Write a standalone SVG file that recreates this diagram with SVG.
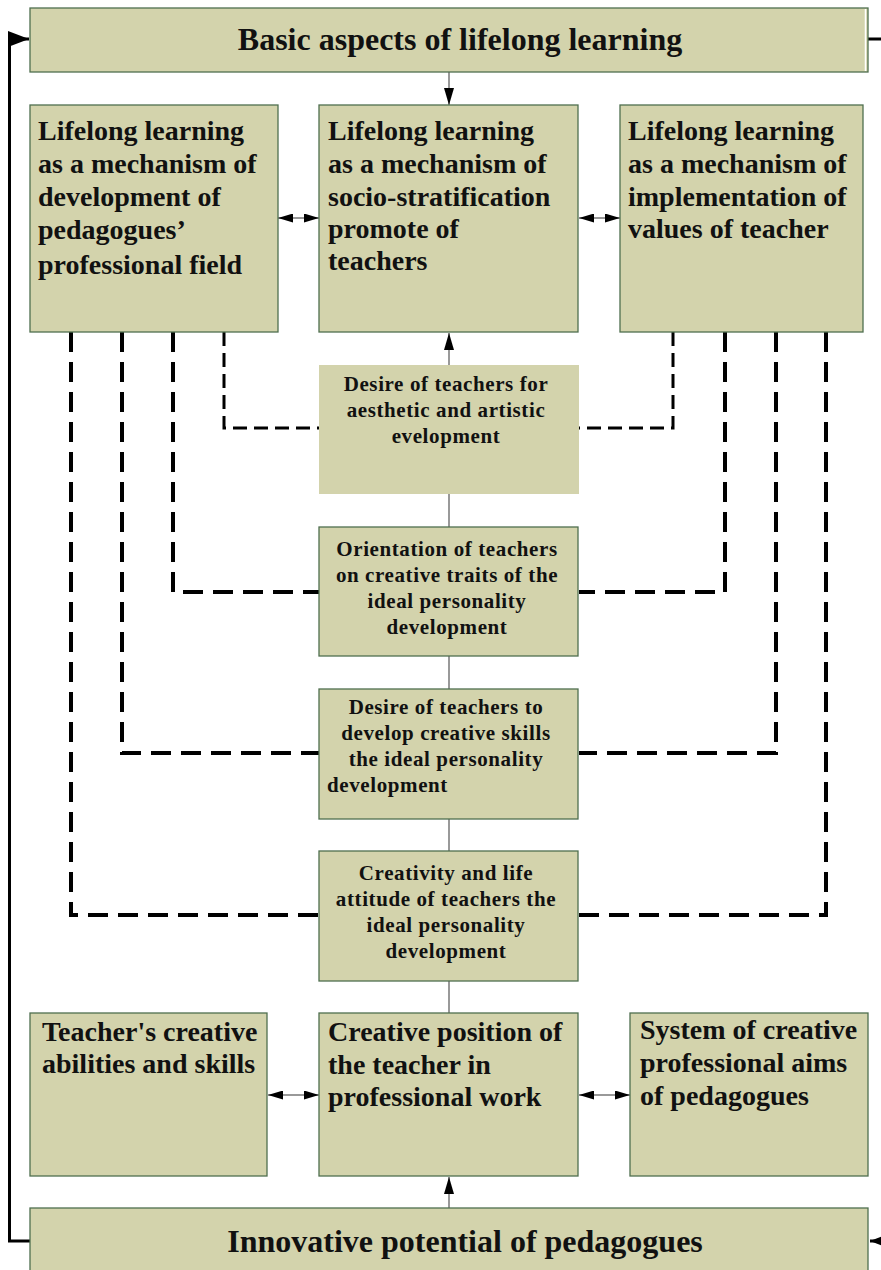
<svg xmlns="http://www.w3.org/2000/svg" width="881" height="1270" viewBox="0 0 881 1270">
  <style>
    .box { fill: #d3d3ac; stroke: #4f6f4f; stroke-width: 1.3; }
    .plain { fill: #d3d3ac; stroke: none; }
    .t { font-family: "Liberation Serif", "Times New Roman", serif; font-weight: bold; fill: #111; }
    .big { font-size: 32px; }
    .mid { font-size: 28px; }
    .sm { font-size: 21px; letter-spacing: 0.6px; }
    .c { text-anchor: middle; }
    .link { stroke: #777; stroke-width: 1.5; fill: none; }
    .frame { stroke: #000; stroke-width: 3; fill: none; }
    .dthin { stroke: #000; stroke-width: 3; fill: none; stroke-dasharray: 14 7; }
    .dthick { stroke: #000; stroke-width: 4; fill: none; stroke-dasharray: 20 10; }
  </style>
  <defs>
    <marker id="ah" markerUnits="userSpaceOnUse" markerWidth="17" markerHeight="10" refX="17" refY="5" orient="auto-start-reverse">
      <path d="M0,0 L17,5 L0,10 Z" fill="#000"/>
    </marker>
    <marker id="ahs" markerUnits="userSpaceOnUse" markerWidth="15" markerHeight="9" refX="15" refY="4.5" orient="auto-start-reverse">
      <path d="M0,0 L15,4.5 L0,9 Z" fill="#000"/>
    </marker>
    <marker id="ahbig" markerUnits="userSpaceOnUse" markerWidth="21" markerHeight="16" refX="21" refY="8" orient="auto">
      <path d="M0,0 L21,8 L0,16 Z" fill="#000"/>
    </marker>
  </defs>

  <rect width="881" height="1270" fill="#fff"/>

  <!-- connectors -->
  <g id="connectors">
    <!-- outer feedback frame -->
    <path class="frame" d="M30,1241 H9.5 V39 H29" marker-end="url(#ahbig)"/>
    <path class="frame" d="M868,39 H900 V1241 H870" marker-end="url(#ahbig)"/>

    <!-- vertical spine -->
    <path class="link" d="M449,72 V105" marker-end="url(#ah)"/>
    <path class="link" d="M449,365 V333" marker-end="url(#ah)"/>
    <path class="link" d="M449,494 V527"/>
    <path class="link" d="M449,656 V689"/>
    <path class="link" d="M449,819 V851"/>
    <path class="link" d="M449,981 V1013"/>
    <path class="link" d="M449,1208 V1177" marker-end="url(#ah)"/>

    <!-- two-way links -->
    <path class="link" stroke="#000" d="M278,218 H319" marker-start="url(#ahs)" marker-end="url(#ahs)"/>
    <path class="link" stroke="#000" d="M579,218 H620" marker-start="url(#ahs)" marker-end="url(#ahs)"/>
    <path class="link" stroke="#000" d="M268,1095 H319" marker-start="url(#ahs)" marker-end="url(#ahs)"/>
    <path class="link" stroke="#000" d="M579,1095 H630" marker-start="url(#ahs)" marker-end="url(#ahs)"/>

    <!-- dashed feeds, left -->
    <path class="dthin" d="M224,332 V428 H319"/>
    <path class="dthick" d="M173,332 V592 H319"/>
    <path class="dthick" d="M122,332 V753 H319"/>
    <path class="dthick" d="M71,332 V915 H319"/>
    <!-- dashed feeds, right -->
    <path class="dthin" d="M673,332 V428 H579"/>
    <path class="dthick" d="M725,332 V592 H579"/>
    <path class="dthick" d="M776,332 V753 H579"/>
    <path class="dthick" d="M826,332 V915 H579"/>
  </g>

  <!-- header -->
  <g id="basic-aspects">
    <rect class="box" x="30" y="8" width="838" height="64"/>
    <line x1="865.5" y1="9" x2="865.5" y2="71" stroke="#fff" stroke-width="1.5"/>
    <text class="t big c" x="460" y="50">Basic aspects of lifelong learning</text>
  </g>

  <!-- mechanisms row -->
  <g id="mechanism-development">
    <rect class="box" x="30" y="105" width="248" height="227"/>
    <text class="t mid" x="38" y="140">Lifelong learning</text>
    <text class="t mid" x="38" y="173">as a mechanism of</text>
    <text class="t mid" x="38" y="206">development of</text>
    <text class="t mid" x="38" y="239">pedagogues’</text>
    <text class="t mid" x="38" y="274">professional field</text>
  </g>
  <g id="mechanism-socio">
    <rect class="box" x="319" y="105" width="259" height="227"/>
    <text class="t mid" x="328" y="140">Lifelong learning</text>
    <text class="t mid" x="328" y="173">as a mechanism of</text>
    <text class="t mid" x="328" y="206">socio-stratification</text>
    <text class="t mid" x="328" y="238">promote of</text>
    <text class="t mid" x="328" y="270">teachers</text>
  </g>
  <g id="mechanism-values">
    <rect class="box" x="620" y="105" width="243" height="227"/>
    <text class="t mid" x="628" y="140">Lifelong learning</text>
    <text class="t mid" x="628" y="173">as a mechanism of</text>
    <text class="t mid" x="628" y="206">implementation of</text>
    <text class="t mid" x="628" y="238">values of teacher</text>
  </g>

  <!-- centre column -->
  <g id="aesthetic-desire">
    <rect class="plain" x="319" y="365" width="260" height="129"/>
    <text class="t sm c" x="446" y="391">Desire of teachers for</text>
    <text class="t sm c" x="446" y="417">aesthetic and artistic</text>
    <text class="t sm c" x="446" y="443">evelopment</text>
  </g>
  <g id="creative-orientation">
    <rect class="box" x="319" y="527" width="259" height="129"/>
    <text class="t sm c" x="447" y="556">Orientation of teachers</text>
    <text class="t sm c" x="447" y="582">on creative traits of the</text>
    <text class="t sm c" x="447" y="608">ideal personality</text>
    <text class="t sm c" x="447" y="634">development</text>
  </g>
  <g id="creative-skills">
    <rect class="box" x="319" y="689" width="259" height="130"/>
    <text class="t sm c" x="446" y="714">Desire of teachers to</text>
    <text class="t sm c" x="446" y="740">develop creative skills</text>
    <text class="t sm c" x="446" y="766">the ideal personality</text>
    <text class="t sm" x="327" y="792">development</text>
  </g>
  <g id="life-attitude">
    <rect class="box" x="319" y="851" width="259" height="130"/>
    <text class="t sm c" x="446" y="880">Creativity and life</text>
    <text class="t sm c" x="446" y="906">attitude of teachers the</text>
    <text class="t sm c" x="446" y="932">ideal personality</text>
    <text class="t sm c" x="446" y="958">development</text>
  </g>

  <!-- creative row -->
  <g id="creative-abilities">
    <rect class="box" x="30" y="1013" width="237" height="163"/>
    <text class="t mid" x="42" y="1041">Teacher's creative</text>
    <text class="t mid" x="42" y="1073">abilities and skills</text>
  </g>
  <g id="creative-position">
    <rect class="box" x="319" y="1013" width="259" height="163"/>
    <text class="t mid" x="328" y="1041">Creative position of</text>
    <text class="t mid" x="328" y="1074">the teacher in</text>
    <text class="t mid" x="328" y="1106">professional work</text>
  </g>
  <g id="creative-aims">
    <rect class="box" x="630" y="1013" width="238" height="163"/>
    <text class="t mid" x="640" y="1039">System of creative</text>
    <text class="t mid" x="640" y="1072">professional aims</text>
    <text class="t mid" x="640" y="1105">of pedagogues</text>
  </g>

  <!-- footer -->
  <g id="innovative-potential">
    <rect class="box" x="30" y="1208" width="838" height="80"/>
    <text class="t big c" x="465" y="1252">Innovative potential of pedagogues</text>
  </g>
</svg>
